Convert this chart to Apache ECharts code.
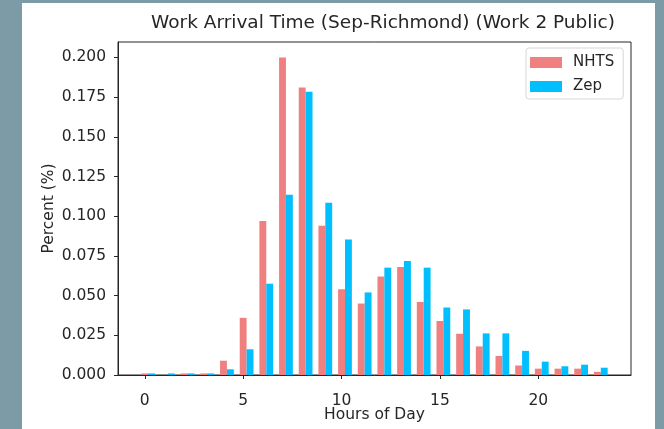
<!DOCTYPE html>
<html>
<head>
<meta charset="utf-8">
<script src="https://cdn.jsdelivr.net/npm/echarts@6/dist/echarts.min.js"></script>
<style>
  html, body { margin: 0; padding: 0; width: 664px; height: 429px; overflow: hidden; background: #7d9ba6; }
  #panel { position: absolute; left: 22px; top: 3px; width: 633px; height: 426px; background: #ffffff; }
  #chart { position: absolute; left: 0; top: 0; width: 664px; height: 429px; }
</style>
</head>
<body>
<div id="panel"></div>
<div id="chart"></div>
<script>
const hours = [0,1,2,3,4,5,6,7,8,9,10,11,12,13,14,15,16,17,18,19,20,21,22,23];
const nhts = [0.001,0.000,0.001,0.001,0.009,0.036,0.097,0.200,0.181,0.094,0.054,0.045,0.062,0.068,0.046,0.034,0.026,0.018,0.012,0.006,0.004,0.004,0.004,0.002];
const zep  = [0.001,0.001,0.001,0.001,0.0036,0.0162,0.0575,0.1135,0.1783,0.1085,0.0853,0.052,0.0676,0.0718,0.0676,0.0425,0.0413,0.0262,0.0262,0.0152,0.0084,0.0055,0.0065,0.0046];
const xTicks = [0,5,10,15,20];
const yTicks = [0,0.025,0.05,0.075,0.1,0.125,0.15,0.175,0.2];
const seriesNames = ['NHTS','Zep'];
const seriesColors = ['#f08080','#00bfff'];
const titleText = 'Work Arrival Time (Sep-Richmond) (Work 2 Public)';
const xName = 'Hours of Day';
const yName = 'Percent (%)';

const barW = 0.35;
const FONT = 'DejaVu Sans';
const TXT = '#262626';

function makeSeries(idx, values) {
  return {
    name: seriesNames[idx],
    type: 'custom',
    itemStyle: { color: seriesColors[idx] },
    encode: { x: 0, y: 1 },
    data: hours.map((h, i) => [h, values[i]]),
    renderItem: function (params, api) {
      const x = api.value(0), y = api.value(1);
      const off = idx * barW;
      const p1 = api.coord([x + off - barW / 2, y]);
      const p2 = api.coord([x + off + barW / 2, 0]);
      return {
        type: 'rect',
        shape: { x: p1[0], y: p1[1], width: p2[0] - p1[0], height: p2[1] - p1[1] },
        style: { fill: seriesColors[idx] }
      };
    }
  };
}

const chart = echarts.init(document.getElementById('chart'), null, { renderer: 'canvas' });
chart.setOption({
  backgroundColor: 'transparent',
  animation: false,
  title: {
    text: titleText,
    left: 378, top: 9, textAlign: 'center',
    textStyle: { fontFamily: FONT, fontSize: 18.5, fontWeight: 'normal', color: TXT }
  },
  legend: {
    data: seriesNames.map((n, i) => ({ name: n, itemStyle: { color: seriesColors[i] } })),
    orient: 'vertical',
    left: 526, top: 48,
    itemWidth: 32, itemHeight: 11, itemGap: 9,
    padding: [7, 9, 5, 4],
    borderColor: '#d6d6d6', borderWidth: 1, borderRadius: 3,
    backgroundColor: '#ffffff',
    icon: 'rect',
    textStyle: { fontFamily: FONT, fontSize: 15, color: TXT, padding: [0, 0, 0, 6] }
  },
  grid: {
    left: 118, right: 33, top: 42, bottom: 54,
    containLabel: false, outerBoundsMode: 'none',
    show: true, borderColor: '#262626', borderWidth: 1, backgroundColor: 'transparent'
  },
  xAxis: {
    type: 'value', min: -1.36, max: 24.71,
    name: xName, nameLocation: 'middle', nameGap: 32, nameMoveOverlap: false,
    nameTextStyle: { fontFamily: FONT, fontSize: 15.5, color: TXT },
    axisLine: { show: true, onZero: false, lineStyle: { color: '#262626', width: 1 } },
    axisTick: { show: true, length: 4, inside: false, customValues: xTicks, lineStyle: { color: '#262626' } },
    axisLabel: { customValues: xTicks, margin: 18, fontFamily: FONT, fontSize: 15.5, color: TXT },
    splitLine: { show: false }
  },
  yAxis: {
    type: 'value', min: 0, max: 0.2097,
    name: yName, nameLocation: 'middle', nameGap: 61, nameRotate: 90, nameMoveOverlap: false,
    nameTextStyle: { fontFamily: FONT, fontSize: 15.5, color: TXT },
    axisLine: { show: true, onZero: false, lineStyle: { color: '#262626', width: 1 } },
    axisTick: { show: true, length: 4, inside: false, customValues: yTicks, lineStyle: { color: '#262626' } },
    axisLabel: { customValues: yTicks, margin: 12, fontFamily: FONT, fontSize: 15.5, color: TXT,
      formatter: v => v.toFixed(3) },
    splitLine: { show: false }
  },
  series: [makeSeries(0, nhts), makeSeries(1, zep)]
});
</script>
</body>
</html>
